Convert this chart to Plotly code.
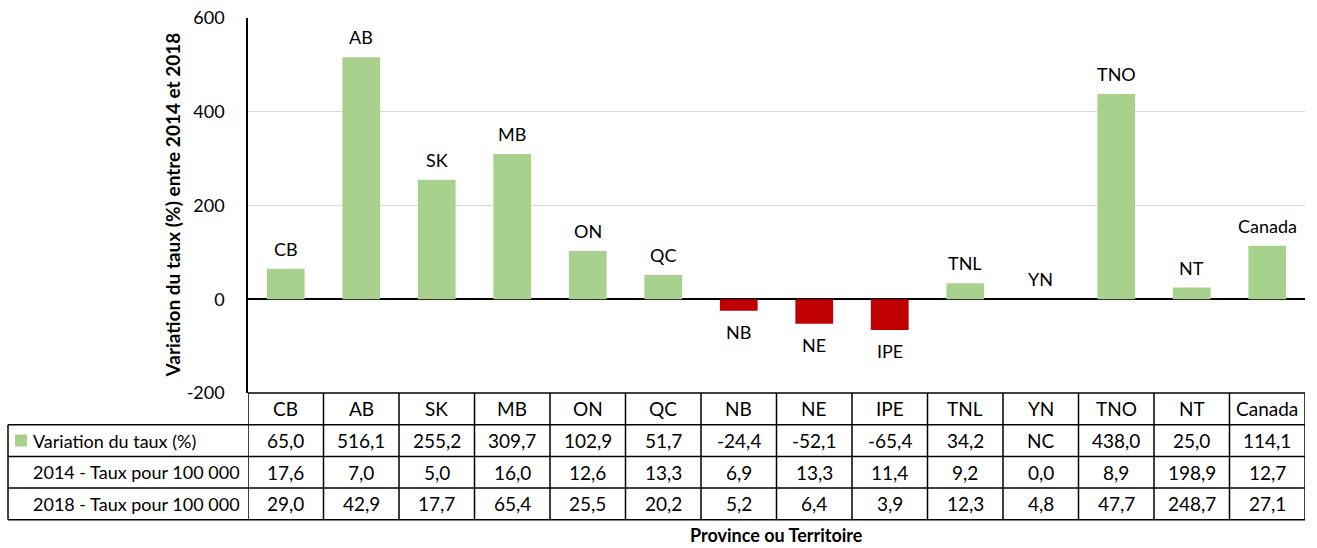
import plotly.graph_objects as go

categories = ["CB", "AB", "SK", "MB", "ON", "QC", "NB", "NE", "IPE", "TNL", "YN", "TNO", "NT", "Canada"]
variation = [65.0, 516.1, 255.2, 309.7, 102.9, 51.7, -24.4, -52.1, -65.4, 34.2, None, 438.0, 25.0, 114.1]
taux_2014 = [17.6, 7.0, 5.0, 16.0, 12.6, 13.3, 6.9, 13.3, 11.4, 9.2, 0.0, 8.9, 198.9, 12.7]
taux_2018 = [29.0, 42.9, 17.7, 65.4, 25.5, 20.2, 5.2, 6.4, 3.9, 12.3, 4.8, 47.7, 248.7, 27.1]
row_labels = ["Variation du taux (%)", "2014 - Taux pour 100 000", "2018 - Taux pour 100 000"]
y_ticks = [-200, 0, 200, 400, 600]
y_tick_text = ["-200", "0", "200", "400", "600"]

GREEN = "#A9D18E"
RED = "#C00000"
FONT = "Lato"
n = len(categories)

def fmt(v):
    return "NC" if v is None else f"{v:.1f}".replace(".", ",")

bar_vals = [0 if v is None else v for v in variation]
colors = [RED if v < 0 else GREEN for v in bar_vals]
xs = list(range(n))

fig = go.Figure()
fig.add_trace(go.Bar(x=xs, y=bar_vals, marker=dict(color=colors, line=dict(width=0)),
                     width=0.5, hoverinfo="skip", showlegend=False))

annotations = []
for i, (c, v) in enumerate(zip(categories, bar_vals)):
    annotations.append(dict(x=i, y=v, xref="x", yref="y", text=c, showarrow=False,
                            xanchor="center", yanchor="middle",
                            yshift=20 if v >= 0 else -21,
                            font=dict(family=FONT, size=18, color="#000")))

plot_w = 1057.0
plot_h = 375.0
row_h = 31.7 / plot_h
label_left = -240 / plot_w
shapes = []
line = dict(color="black", width=1.5)
TS = 19

for i, c in enumerate(categories):
    annotations.append(dict(x=i, y=-0.5 * row_h, xref="x", yref="paper", text=c, showarrow=False,
                            xanchor="center", yanchor="middle",
                            font=dict(family=FONT, size=TS, color="#000")))
for r, vals in enumerate([variation, taux_2014, taux_2018]):
    yc = -(r + 1.5) * row_h
    for i, v in enumerate(vals):
        annotations.append(dict(x=i, y=yc, xref="x", yref="paper", text=fmt(v), showarrow=False,
                                xanchor="center", yanchor="middle",
                                font=dict(family=FONT, size=TS, color="#000")))
    annotations.append(dict(x=label_left + 23 / plot_w, y=yc, xref="paper", yref="paper",
                            text=row_labels[r], showarrow=False, xanchor="left", yanchor="middle",
                            font=dict(family=FONT, size=18, color="#000")))

shapes.append(dict(type="rect", xref="paper", yref="paper",
                   x0=label_left + 7 / plot_w, x1=label_left + 19 / plot_w,
                   y0=-1.5 * row_h - 6 / plot_h, y1=-1.5 * row_h + 6 / plot_h,
                   fillcolor=GREEN, line=dict(width=0)))

bottom = -4 * row_h
shapes.append(dict(type="line", xref="paper", yref="paper", x0=0, x1=1, y0=0, y1=0, line=line))
for k in range(1, 5):
    shapes.append(dict(type="line", xref="paper", yref="paper", x0=label_left, x1=1,
                       y0=-k * row_h, y1=-k * row_h, line=line))
for b in range(n + 1):
    shapes.append(dict(type="line", xref="x", yref="paper", x0=b - 0.5, x1=b - 0.5,
                       y0=0, y1=bottom, line=line))
shapes.append(dict(type="line", xref="paper", yref="paper", x0=label_left, x1=label_left,
                   y0=-row_h, y1=bottom, line=line))

annotations.append(dict(x=-76 / plot_w, y=0.5, xref="paper", yref="paper",
                        text="<b>Variation du taux (%) entre 2014 et 2018</b>", textangle=-90,
                        xanchor="center", yanchor="middle",
                        showarrow=False, font=dict(family=FONT, size=19, color="#000")))
annotations.append(dict(x=0.5, y=-142 / plot_h, xref="paper", yref="paper",
                        text="<b>Province ou Territoire</b>", showarrow=False,
                        xanchor="center", yanchor="middle",
                        font=dict(family=FONT, size=18, color="#000")))

fig.update_layout(
    width=1317, height=548,
    margin=dict(l=248, r=12, t=18, b=155),
    plot_bgcolor="white", paper_bgcolor="white",
    xaxis=dict(range=[-0.5, n - 0.5], showticklabels=False, showgrid=False, zeroline=False,
               showline=False, fixedrange=True, automargin=False),
    yaxis=dict(range=[-200, 600], tickvals=y_ticks, ticktext=y_tick_text, showgrid=True,
               gridcolor="#D9D9D9", gridwidth=1, zeroline=True, zerolinecolor="black",
               zerolinewidth=1.5, showline=True, linecolor="black", linewidth=1.5,
               ticks="", ticklabelstandoff=18, automargin=False,
               tickfont=dict(family=FONT, size=18, color="#000")),
    shapes=shapes, annotations=annotations, bargap=0.5,
)

fig.write_html("out.html", config={"displayModeBar": False},
               post_script="document.body.style.margin='0';document.body.style.overflow='hidden';")
